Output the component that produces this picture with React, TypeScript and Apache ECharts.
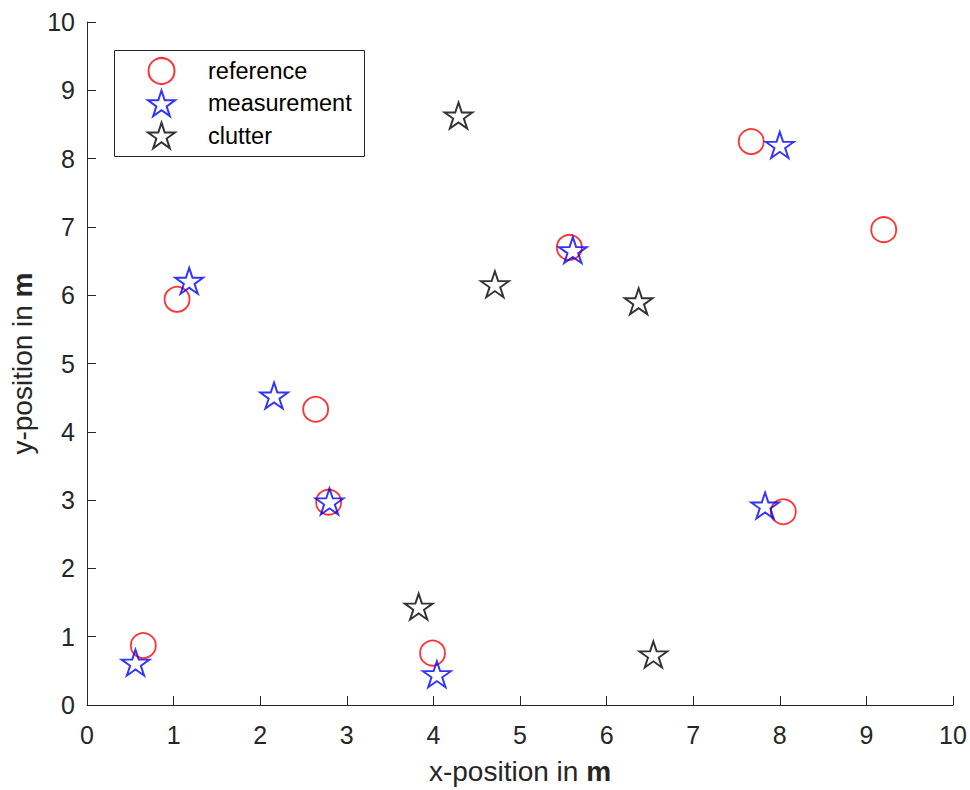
import React, { useEffect, useRef } from "react";
import * as echarts from "echarts";

const referenceX = [0.65, 1.04, 2.64, 2.79, 3.99, 5.57, 7.67, 8.04, 9.2];
const referenceY = [0.87, 5.94, 4.33, 2.97, 0.76, 6.7, 8.25, 2.83, 6.96];
const measurementX = [0.56, 1.18, 2.16, 2.8, 4.04, 5.61, 8.0, 7.83];
const measurementY = [0.62, 6.21, 4.53, 2.98, 0.45, 6.66, 8.2, 2.92];
const clutterX = [4.29, 4.71, 6.37, 3.83, 6.54];
const clutterY = [8.63, 6.16, 5.91, 1.44, 0.74];
const axisTicks = [0, 1, 2, 3, 4, 5, 6, 7, 8, 9, 10];
const seriesNames = ["reference", "measurement", "clutter"];

const STAR =
  "path://M0,-100 L22.45,-30.9 L95.1,-30.9 L36.3,11.8 L58.8,80.9 L0,38.2 L-58.8,80.9 L-36.3,11.8 L-95.1,-30.9 L-22.45,-30.9 Z";

const zip = (xs: number[], ys: number[]) => xs.map((x, i) => [x, ys[i]]);

export default function App() {
  const ref = useRef<HTMLDivElement>(null);
  useEffect(() => {
    if (!ref.current) return;
    const chart = echarts.init(ref.current, null, { renderer: "svg" });
    const font = "'Liberation Sans', Arial, Helvetica, sans-serif";
    const axisColor = "#262626";
    const titleRich = {
      a: { fontSize: 28, color: axisColor, fontFamily: font },
      b: { fontSize: 28, color: axisColor, fontWeight: "bold", fontFamily: font },
    };
    const common = {
      min: axisTicks[0],
      max: axisTicks[axisTicks.length - 1],
      interval: 1,
      splitLine: { show: false },
      axisLine: { show: true, onZero: false, lineStyle: { color: axisColor, width: 1 } },
      axisTick: { show: true, inside: true, length: 9, lineStyle: { color: axisColor } },
      nameLocation: "middle" as const,
    };
    chart.setOption({
      animation: false,
      backgroundColor: "#ffffff",
      textStyle: { fontFamily: font },
      grid: { left: 87, right: 17, top: 22, bottom: 82, containLabel: false },
      xAxis: {
        ...common,
        type: "value",
        axisLabel: { color: axisColor, fontSize: 25, margin: 17, fontFamily: font },
        name: "{a|x-position in }{b|m}",
        nameGap: 52,
        nameTextStyle: { rich: titleRich },
      },
      yAxis: {
        ...common,
        type: "value",
        axisLabel: { color: axisColor, fontSize: 25, margin: 12, fontFamily: font },
        name: "{a|y-position in }{b|m}",
        nameGap: 48,
        nameTextStyle: { rich: titleRich },
      },
      legend: {
        orient: "vertical",
        left: 147,
        top: 57,
        padding: 0,
        itemWidth: 27,
        itemHeight: 26,
        itemGap: 4.5,
        data: seriesNames,
        selectedMode: false,
        textStyle: {
          color: "#000",
          fontSize: 23.5,
          lineHeight: 26,
          fontFamily: font,
          padding: [0, 0, 0, 28],
        },
      },
      graphic: [
        {
          type: "rect",
          left: 112,
          top: 48,
          shape: { width: 250, height: 106 },
          style: { fill: "none", stroke: "#262626", lineWidth: 1 },
          z: 10,
        },
      ],
      series: [
        {
          name: seriesNames[0],
          type: "scatter",
          data: zip(referenceX, referenceY),
          symbol: "circle",
          symbolSize: 25,
          itemStyle: { color: "rgba(0,0,0,0)", borderColor: "#ff0000", borderWidth: 1.8 },
        },
        {
          name: seriesNames[1],
          type: "scatter",
          data: zip(measurementX, measurementY),
          symbol: STAR,
          symbolSize: [28, 26],
          itemStyle: { color: "rgba(0,0,0,0)", borderColor: "#0000ff", borderWidth: 1.9 },
        },
        {
          name: seriesNames[2],
          type: "scatter",
          data: zip(clutterX, clutterY),
          symbol: STAR,
          symbolSize: [28, 26],
          itemStyle: { color: "rgba(0,0,0,0)", borderColor: "#000000", borderWidth: 1.9 },
        },
      ],
    });
    return () => chart.dispose();
  }, []);
  return (
    <div
      ref={ref}
      style={{ position: "absolute", left: 0, top: 0, width: 970, height: 790 }}
    />
  );
}
